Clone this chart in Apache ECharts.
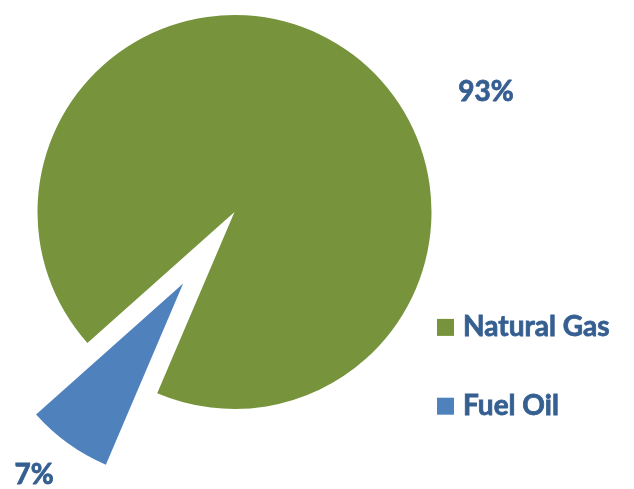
<!DOCTYPE html>
<html>
<head>
<meta charset="utf-8">
<script src="https://cdn.jsdelivr.net/npm/echarts@6/dist/echarts.min.js"></script>
<style>
  html, body { margin: 0; padding: 0; background: #fff; }
  #chart { width: 634px; height: 489px; }
</style>
</head>
<body>
<div id="chart"></div>
<script>
// 燃料构成饼图
const categories = ['Natural Gas', 'Fuel Oil'];
const shares = [93, 7];
const colors = ['#77933C', '#4F81BD'];
const textColor = '#365F91';

// 百分比标签位置（按数据序号）
const labelPos = [[486, 92], [34, 475]];

const chart = echarts.init(document.getElementById('chart'));

// 文字加细描边，模拟 Calibri 粗体
const textStyle = {
  fontFamily: 'Lato',
  fontWeight: 'bold',
  fontSize: 28,
  color: textColor,
  textBorderColor: textColor,
  textBorderWidth: 0.8
};

const total = shares.reduce((s, v) => s + v, 0);

chart.setOption({
  animation: false,
  color: colors,
  legend: {
    orient: 'vertical',
    left: 432,
    top: 308,
    itemWidth: 17,
    itemHeight: 17,
    itemGap: 50,
    icon: 'rect',
    selectedMode: false,
    textStyle: Object.assign({ padding: [0, 0, 0, 4] }, textStyle),
    data: categories
  },
  // 选中扇区的标签不吃 labelLayout，这里直接用 graphic 放百分比
  graphic: shares.map((v, i) => ({
    type: 'text',
    x: labelPos[i][0],
    y: labelPos[i][1],
    silent: true,
    style: {
      text: Math.round(v / total * 100) + '%',
      align: 'center',
      verticalAlign: 'middle',
      fill: textColor,
      stroke: textColor,
      lineWidth: 0.8,
      font: 'bold 28px Lato'
    }
  })),
  series: [{
    type: 'pie',
    center: [234.5, 212],
    radius: 197,
    startAngle: 221.7,
    clockwise: true,
    selectedMode: 'single',
    selectedOffset: 88,
    emphasis: { disabled: true },
    select: { itemStyle: { color: colors[1] } },
    label: { show: false },
    labelLine: { show: false },
    data: categories.map((name, i) => ({
      name,
      value: shares[i],
      selected: i === 1
    }))
  }]
});
</script>
</body>
</html>
